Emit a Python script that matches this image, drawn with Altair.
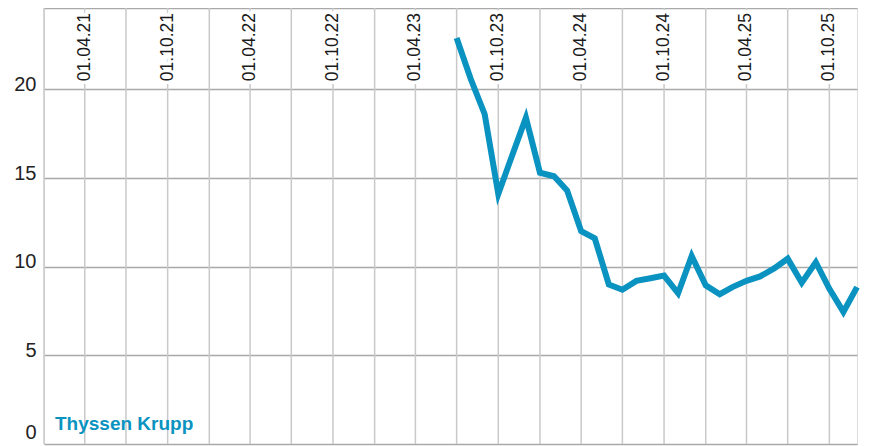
import altair as alt
import pandas as pd

# ---- data ----
line_dates = [
    "2023-07-01", "2023-08-01", "2023-09-01", "2023-10-01", "2023-11-01", "2023-12-01",
    "2024-01-01", "2024-02-01", "2024-03-01", "2024-04-01", "2024-05-01", "2024-06-01",
    "2024-07-01", "2024-08-01", "2024-09-01", "2024-10-01", "2024-11-01", "2024-12-01",
    "2025-01-01", "2025-02-01", "2025-03-01", "2025-04-01", "2025-05-01", "2025-06-01",
    "2025-07-01", "2025-08-01", "2025-09-01", "2025-10-01", "2025-11-01", "2025-12-01",
]
line_values = [
    22.9, 20.6, 18.6, 14.1, 16.3, 18.4,
    15.3, 15.1, 14.3, 12.0, 11.6, 9.0,
    8.7, 9.2, 9.35, 9.5, 8.5, 10.6,
    8.95, 8.45, 8.85, 9.2, 9.45, 9.9,
    10.45, 9.1, 10.25, 8.75, 7.45, 8.85,
]
grid_dates = [
    "2021-01-01", "2021-04-01", "2021-07-01", "2021-10-01",
    "2022-01-01", "2022-04-01", "2022-07-01", "2022-10-01",
    "2023-01-01", "2023-04-01", "2023-07-01", "2023-10-01",
    "2024-01-01", "2024-04-01", "2024-07-01", "2024-10-01",
    "2025-01-01", "2025-04-01", "2025-07-01", "2025-10-01",
]
label_dates = [
    "2021-04-01", "2021-10-01", "2022-04-01", "2022-10-01", "2023-04-01",
    "2023-10-01", "2024-04-01", "2024-10-01", "2025-04-01", "2025-10-01",
]
y_ticks = [0, 5, 10, 15, 20]
brand = ["Thyssen Krupp"]

# ---- styling ----
BLUE = "#0a93c0"
H_GRID = "#a9a9a9"
V_GRID = "#c9c9c9"
FONT = "Liberation Sans"
W, H = 813, 436

line_df = pd.DataFrame({"date": line_dates, "value": line_values})
grid_df = pd.DataFrame({"date": grid_dates})
label_df = pd.DataFrame({"date": label_dates})
brand_df = pd.DataFrame({"name": brand})

xscale = alt.Scale(
    type="utc",
    domain=[alt.DateTime(year=2021, month=1, date=1, utc=True),
            alt.DateTime(year=2025, month=12, date=1, utc=True)],
)
xaxis = alt.Axis(orient="top", domain=True, domainColor=H_GRID, domainWidth=1.5,
                 labels=False, ticks=False, grid=False, title=None,
                 minExtent=0, maxExtent=0)


def xenc():
    return alt.X("date:T", scale=xscale, axis=xaxis)


yscale = alt.Scale(domain=[0, 24.59], nice=False, zero=False)
yaxis = alt.Axis(values=y_ticks, grid=True, gridColor=H_GRID, gridWidth=1.5,
                 domain=False, ticks=False, title=None,
                 labelFont=FONT, labelFontSize=20, labelColor="#222222",
                 labelPadding=8, labelAlign="right", labelBaseline="alphabetic",
                 labelOffset={"condition": {"test": "datum.value == 0", "value": -6}, "value": 1},
                 minExtent=36, maxExtent=36)

vgrid = alt.Chart(grid_df).mark_rule(color=V_GRID, strokeWidth=1.5).encode(x=xenc())

label_base = alt.Chart(label_df).transform_calculate(
    lbl="utcFormat(toDate(datum.date), '%d.%m.%y')"
)

halo = label_base.mark_text(
    angle=270, align="right", baseline="middle", font=FONT, fontSize=17.5,
    color="white", stroke="white", strokeWidth=7,
).encode(x=xenc(), y=alt.value(5), text="lbl:N")

labels = label_base.mark_text(
    angle=270, align="right", baseline="middle", font=FONT, fontSize=17.5,
    color="#1a1a1a",
).encode(x=xenc(), y=alt.value(5), text="lbl:N")

line = alt.Chart(line_df).mark_line(color=BLUE, strokeWidth=6).encode(
    x=xenc(), y=alt.Y("value:Q", scale=yscale, axis=yaxis)
)

brand_text = alt.Chart(brand_df).mark_text(
    align="left", baseline="alphabetic", font=FONT, fontSize=19,
    fontWeight="bold", color=BLUE,
).encode(x=alt.value(11), y=alt.value(422), text="name:N")

chart = (
    alt.layer(vgrid, halo, labels, line, brand_text)
    .properties(
        width=W, height=H,
        autosize=alt.AutoSizeParams(type="none"),
        padding={"left": 36, "top": 0, "right": 7, "bottom": 2},
    )
    .configure_view(stroke=None)
    .configure(background="white")
)

chart.save("out.html", embed_options={"renderer": "svg", "actions": False})
